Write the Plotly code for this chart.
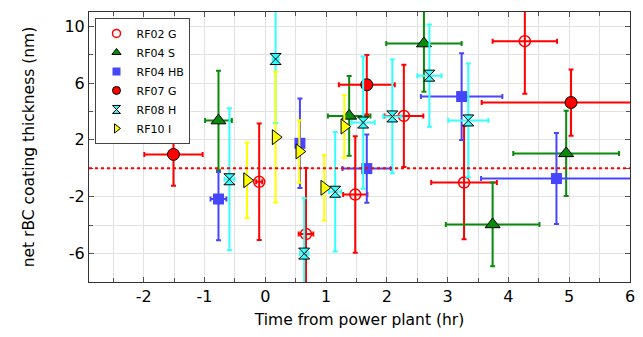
import plotly.graph_objects as go

# values (x in hr, y in nm)
rf02g_x = [-0.10, 0.67, 1.48, 2.28, 3.27, 4.27]
rf02g_y = [-0.95, -4.63, -1.85, 3.69, -1.00, 8.95]
rf02g_xerr = [0.05, 0.12, 0.20, 0.32, 0.54, 0.53]
rf02g_yerr = [4.1, 4.65, 4.1, 3.6, 4.0, 3.7]

rf04s_x = [-0.77, 1.38, 2.61, 3.74, 4.95]
rf04s_y = [3.36, 3.69, 8.78, -3.95, 1.05]
rf04s_xerr = [0.22, 0.35, 0.62, 0.77, 0.87]
rf04s_yerr = [3.5, 2.8, 3.4, 2.95, 3.0]

rf04hb_x = [-0.77, 0.57, 1.67, 3.23, 4.79]
rf04hb_y = [-2.16, 1.76, -0.02, 5.05, -0.72]
rf04hb_xerr = [0.13, 0.03, 0.40, 0.67, 1.24]
rf04hb_yerr_up = [1.9, 3.15, 2.4, 3.05, 3.2]
rf04hb_yerr_down = [2.9, 3.15, 2.4, 3.05, 3.2]

rf07g_x = [-1.51, 1.67, 5.03]
rf07g_y = [0.98, 5.88, 4.63]
rf07g_xerr = [0.48, 0.46, 1.47]
rf07g_yerr = [2.2, 2.1, 2.33]

rf08h_x = [-0.59, 0.17, 0.64, 1.15, 1.61, 2.09, 2.70, 3.34]
rf08h_y = [-0.77, 7.69, -6.0, -1.65, 3.22, 3.65, 6.52, 3.37]
rf08h_xerr = [0.08, 0.05, 0.07, 0.10, 0.19, 0.15, 0.20, 0.33]
rf08h_yerr = [5.0, 4.5, 3.9, 4.2, 4.65, 4.0, 3.6, 4.0]

rf10i_x = [-0.30, 0.17, 0.56, 0.97, 1.30]
rf10i_y = [-0.84, 2.19, 1.19, -1.37, 2.94]
rf10i_xerr = [0.03, 0.03, 0.03, 0.03, 0.03]
rf10i_yerr = [2.66, 4.6, 2.2, 2.3, 2.2]

x_ticks = [-2, -1, 0, 1, 2, 3, 4, 5, 6]
y_ticks = [-6, -2, 2, 6, 10]

FONT = "DejaVu Sans"
RED = "#ff0000"
GREEN = "#0a8a0a"
BLUE = "#4646ff"
CYAN = "#33ffff"
YELLOW = "#ffff00"


def err(arr, color, minus=None):
    d = dict(type="data", array=arr, color=color, thickness=2, width=2.5, visible=True)
    if minus is not None:
        d["symmetric"] = False
        d["arrayminus"] = minus
    return d


series = [
    ("RF02 G", rf02g_x, rf02g_y, rf02g_xerr, rf02g_yerr, None,
     dict(symbol="circle-open", color=RED, size=11, line=dict(width=1.5, color=RED)), RED),
    ("RF04 S", rf04s_x, rf04s_y, rf04s_xerr, rf04s_yerr, None,
     dict(symbol="triangle-up", color=GREEN, size=13, line=dict(width=1, color="black")), GREEN),
    ("RF04 HB", rf04hb_x, rf04hb_y, rf04hb_xerr, rf04hb_yerr_up, rf04hb_yerr_down,
     dict(symbol="square", color=BLUE, size=11, line=dict(width=0)), BLUE),
    ("RF07 G", rf07g_x, rf07g_y, rf07g_xerr, rf07g_yerr, None,
     dict(symbol="circle", color=RED, size=12, line=dict(width=1, color="black")), RED),
    ("RF08 H", rf08h_x, rf08h_y, rf08h_xerr, rf08h_yerr, None,
     dict(symbol="hourglass", color=CYAN, size=11, line=dict(width=1, color="black")), CYAN),
    ("RF10 I", rf10i_x, rf10i_y, rf10i_xerr, rf10i_yerr, None,
     dict(symbol="triangle-right", color=YELLOW, size=13, line=dict(width=1, color="black")), YELLOW),
]

fig = go.Figure()

for name, x, y, xe, ye, ye_minus, marker, col in series:
    fig.add_trace(go.Scatter(
        x=x, y=y, mode="markers", name=name, marker=marker, showlegend=False,
        error_x=err(xe, col), error_y=err(ye, col, ye_minus),
    ))

# smaller markers for the legend box
for name, x, y, xe, ye, ye_minus, marker, col in series:
    small = dict(marker)
    small["size"] = 8
    fig.add_trace(go.Scatter(x=[None], y=[None], mode="markers", name=name, marker=small))

fig.add_hline(y=0, line=dict(color=RED, dash="dot", width=2))

axis_common = dict(
    showline=True, linecolor="#333333", linewidth=1, mirror="allticks",
    ticks="inside", ticklen=5, tickcolor="#555555",
    showgrid=True, gridcolor="#e2e2e2", gridwidth=1, zeroline=False,
    tickfont=dict(family=FONT, size=16, color="black"),
)

fig.update_xaxes(
    **axis_common, range=[-2.9, 6], tickmode="array",
    tickvals=x_ticks, ticktext=[str(v) for v in x_ticks],
    minor=dict(dtick=0.5, tick0=0, showgrid=True, gridcolor="#e2e2e2", ticks="inside",
               ticklen=4, tickcolor="#555555"),
    title=dict(text="Time from power plant (hr)", font=dict(family=FONT, size=15.5, color="black"),
               standoff=8),
)
fig.update_yaxes(
    **axis_common, range=[-8, 11], tickmode="array",
    tickvals=y_ticks, ticktext=[str(v) for v in y_ticks],
    minor=dict(dtick=2, tick0=0, showgrid=True, gridcolor="#e2e2e2", ticks="inside",
               ticklen=4, tickcolor="#555555"),
    title=dict(text="net rBC coating thickness (nm)", font=dict(family=FONT, size=15.5, color="black"),
               standoff=26),
)

fig.update_layout(
    width=643, height=337,
    margin=dict(l=81, r=21, t=4, b=63),
    plot_bgcolor="white", paper_bgcolor="white",
    font=dict(family=FONT, color="black"),
    legend=dict(
        x=0.012, y=0.978, xanchor="left", yanchor="top",
        bgcolor="white", bordercolor="#444444", borderwidth=1,
        font=dict(family=FONT, size=11, color="black"),
        itemwidth=30, tracegroupgap=0,
    ),
)

fig.write_html("out.html")
